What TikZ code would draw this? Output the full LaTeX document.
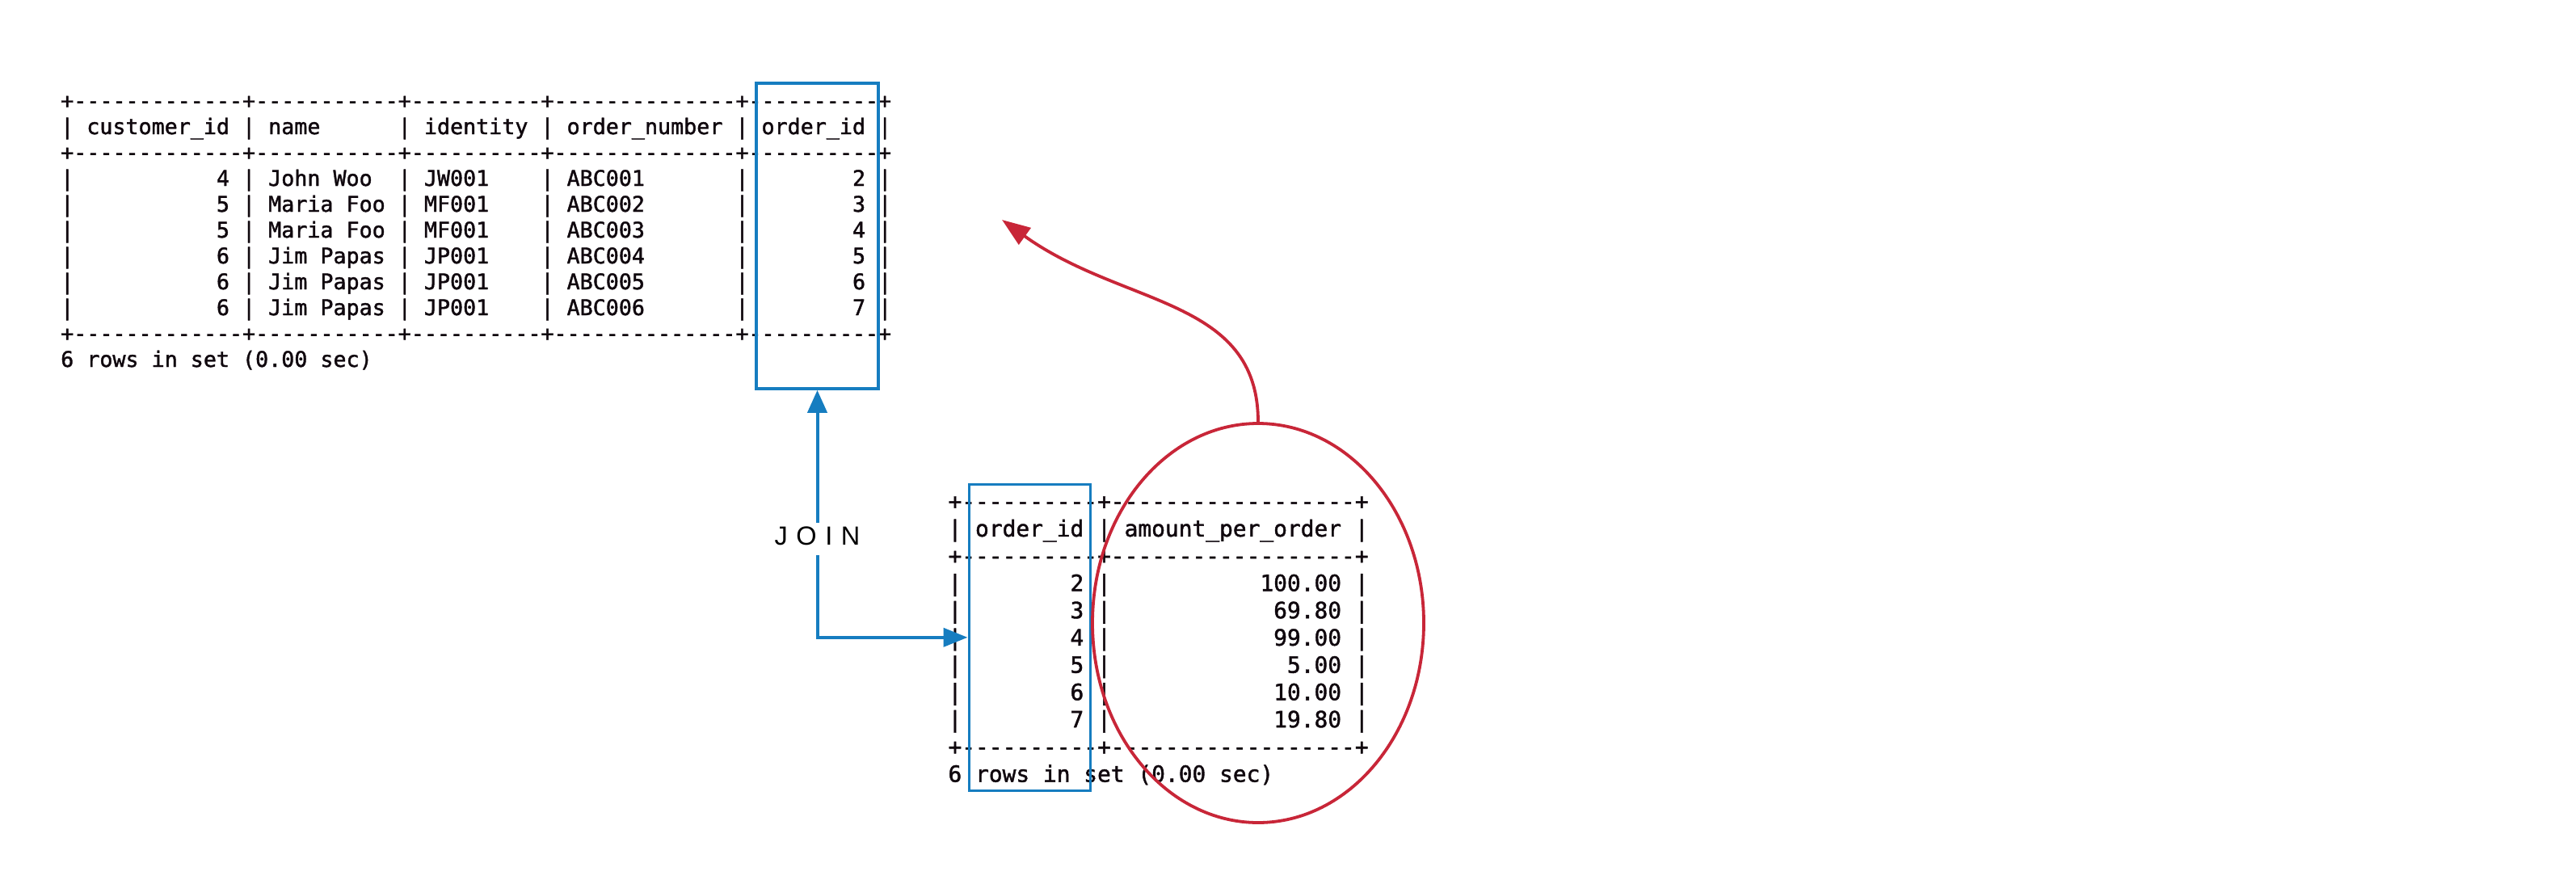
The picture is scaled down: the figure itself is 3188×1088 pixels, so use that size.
\documentclass[tikz,border=0pt]{standalone}
\usepackage{fontspec}
\setmainfont{Liberation Sans}
\setmonofont{DejaVu Sans Mono}[FakeBold=1.5]
\usetikzlibrary{arrows.meta,shapes.geometric}
\definecolor{hlblue}{RGB}{22,125,192}
\definecolor{hlred}{RGB}{200,38,56}
\definecolor{termink}{RGB}{16,8,14}
\begin{document}
\begin{tikzpicture}[x=1pt,y=-1pt,
  upperline/.style={anchor=base west,inner sep=0pt,text=termink,
    font=\ttfamily\fontsize{26.68}{32}\selectfont},
  lowerline/.style={anchor=base west,inner sep=0pt,text=termink,
    font=\ttfamily\fontsize{27.87}{33.7}\selectfont},
  colbox/.style={draw=hlblue,line width=3.6pt,inner sep=0pt},
  joinline/.style={draw=hlblue,line width=4pt},
  ringline/.style={draw=hlred,line width=3.8pt}]

% page
\fill[white] (0,0) rectangle (3188,1088);
\path[use as bounding box] (0,0) rectangle (3188,1088);

% customers joined with orders
\foreach \s [count=\i from 0] in {
  {+-------------+-----------+----------+--------------+----------+},
  {|~customer\_id~|~name~~~~~~|~identity~|~order\_number~|~order\_id~|},
  {+-------------+-----------+----------+--------------+----------+},
  {|~~~~~~~~~~~4~|~John~Woo~~|~JW001~~~~|~ABC001~~~~~~~|~~~~~~~~2~|},
  {|~~~~~~~~~~~5~|~Maria~Foo~|~MF001~~~~|~ABC002~~~~~~~|~~~~~~~~3~|},
  {|~~~~~~~~~~~5~|~Maria~Foo~|~MF001~~~~|~ABC003~~~~~~~|~~~~~~~~4~|},
  {|~~~~~~~~~~~6~|~Jim~Papas~|~JP001~~~~|~ABC004~~~~~~~|~~~~~~~~5~|},
  {|~~~~~~~~~~~6~|~Jim~Papas~|~JP001~~~~|~ABC005~~~~~~~|~~~~~~~~6~|},
  {|~~~~~~~~~~~6~|~Jim~Papas~|~JP001~~~~|~ABC006~~~~~~~|~~~~~~~~7~|},
  {+-------------+-----------+----------+--------------+----------+},
  {6 rows in set (0.00 sec)}}
  \node[upperline] (ta\i) at (75,{134+32*\i}) {\s};

% amounts per order
\foreach \s [count=\i from 0] in {
  {+----------+------------------+},
  {|~order\_id~|~amount\_per\_order~|},
  {+----------+------------------+},
  {|~~~~~~~~2~|~~~~~~~~~~~100.00~|},
  {|~~~~~~~~3~|~~~~~~~~~~~~69.80~|},
  {|~~~~~~~~4~|~~~~~~~~~~~~99.00~|},
  {|~~~~~~~~5~|~~~~~~~~~~~~~5.00~|},
  {|~~~~~~~~6~|~~~~~~~~~~~~10.00~|},
  {|~~~~~~~~7~|~~~~~~~~~~~~19.80~|},
  {+----------+------------------+},
  {6 rows in set (0.00 sec)}}
  \node[lowerline] (tb\i) at (1173.3,{630.2+33.74*\i}) {\s};

% key columns
\node[colbox,minimum width=151pt,minimum height=378pt] (keyA) at (1011.5,292) {};
\node[colbox,minimum width=150pt,minimum height=379pt] (keyB) at (1274.3,788.8) {};

% join link
\node[inner sep=0pt,minimum height=40pt,text height=23.3pt,text depth=8.7pt,
      font=\fontsize{32.5}{36}\selectfont] (join) at (1011.5,666.7)
      {J\hspace{10.5pt}O\hspace{10.5pt}I\hspace{10.5pt}N};
\draw[joinline,{Triangle[length=28pt,width=24pt]}-] (keyA.south) -- (join.north);
\draw[joinline,-{Triangle[length=30pt,width=23pt]}]
  (join.south) -- (keyA.south |- keyB.west) -- (keyB.west);

% amount column and where it goes
\node[ringline,ellipse,minimum width=410pt,minimum height=494pt,inner sep=0pt] (ring) at (1557,771) {};
\coordinate (rtip) at (1240,272);
\draw[ringline,-{Triangle[length=35pt,width=25pt]}]
  (ring.north) .. controls +(0,-154) and (1390,380) .. (rtip);
\end{tikzpicture}
\end{document}
